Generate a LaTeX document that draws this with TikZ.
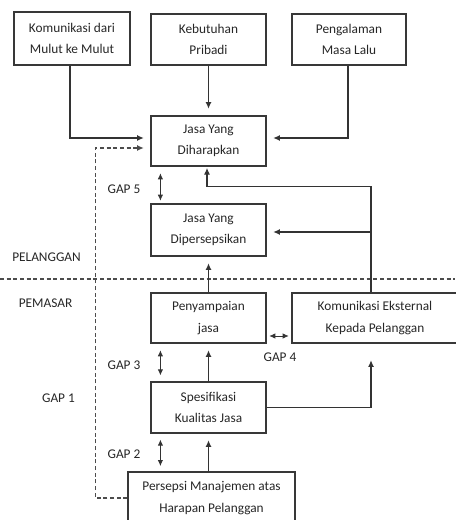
\documentclass[tikz,border=0pt]{standalone}
\usepackage{fontspec}
\setmainfont{Carlito}
\usetikzlibrary{arrows.meta,calc}
\begin{document}
\begin{tikzpicture}[x=0.75pt,y=-0.75pt,
  box/.style={draw=black!78,line width=0.9pt,align=center,inner sep=0pt,font=\fontsize{10}{16}\selectfont,text=black!85},
  arr/.style={draw=black!80,line width=0.8pt,-{Latex[length=5pt,width=4.5pt]},shorten >=5pt},
  dbl/.style={draw=black!80,line width=0.6pt,{Latex[length=4.5pt,width=4pt]}-{Latex[length=4.5pt,width=4pt]}},
  lbl/.style={font=\fontsize{10}{12}\selectfont,text=black!85,inner sep=0pt},
  dsh/.style={draw=black!70,line width=0.8pt,dash pattern=on 3pt off 2pt}]
\useasboundingbox (0,0) rectangle (455,520);
% boxes
\node[box,minimum width=116*0.75pt,minimum height=53*0.75pt] (kom) at (72,38.5) {Komunikasi dari\\Mulut ke Mulut};
\node[box,minimum width=115*0.75pt,minimum height=51*0.75pt] (keb) at (208.5,39.5) {Kebutuhan\\Pribadi};
\node[box,minimum width=114*0.75pt,minimum height=51*0.75pt] (pen) at (349,39.5) {Pengalaman\\Masa Lalu};
\node[box,minimum width=115*0.75pt,minimum height=50*0.75pt] (har) at (208.5,141) {Jasa Yang\\Diharapkan};
\node[box,minimum width=115*0.75pt,minimum height=52*0.75pt] (dip) at (208.5,230) {Jasa Yang\\Dipersepsikan};
\node[box,minimum width=115*0.75pt,minimum height=50*0.75pt] (pny) at (208.5,318) {Penyampaian\\jasa};
\node[box,minimum width=166*0.75pt,minimum height=50*0.75pt] (eks) at (375,318) {Komunikasi Eksternal\\Kepada Pelanggan};
\node[box,minimum width=115*0.75pt,minimum height=51*0.75pt] (spe) at (208.5,407.5) {Spesifikasi\\Kualitas Jasa};
\node[box,minimum width=167*0.75pt,minimum height=52*0.75pt] (per) at (211.5,498) {Persepsi Manajemen atas\\Harapan Pelanggan};
% labels
\node[lbl] (g5) at (124,189) {GAP 5};
\node[lbl] (g3) at (124,365) {GAP 3};
\node[lbl] (g4) at (280,357) {GAP 4};
\node[lbl] (g1) at (58.5,398) {GAP 1};
\node[lbl] (g2) at (124,454) {GAP 2};
\node[lbl] (plg) at (46.5,257) {PELANGGAN};
\node[lbl] (pms) at (45.5,303) {PEMASAR};
% divider
\coordinate (dl) at (0,279);
\coordinate (dr) at (455,279);
\draw[dsh] (dl) -- (dr);
% helper coordinates
\coordinate (ek) at ([shift={(-4,0)}]eks.north);
\coordinate (de) at ([shift={(0,2)}]dip.east);
% connectors
\draw[arr] ([shift={(-2,0)}]kom.south) |- ([shift={(0,-3)}]har.west);
\draw[arr] (keb) -- (har);
\draw[arr] ([shift={(-1,0)}]pen.south) |- ([shift={(0,-3)}]har.east);
\draw[dsh,-{Latex[length=5pt,width=4.5pt]},shorten >=5pt] (per.west) -| ([shift={(-55,7)}]har.west) -- ([shift={(0,7)}]har.west);
\draw[arr,shorten >=1pt] (ek) |- ([shift={(-1.5,20)}]har.south) -- ([shift={(-1.5,0)}]har.south);
\draw[arr] (ek |- de) -- (de);
\draw[arr] (pny) -- (dip);
\draw[arr] (spe) -- (pny);
\draw[arr] (spe.south |- per.north) -- (spe);
\draw[arr,shorten >=12.5pt] (spe.east) -| (ek |- eks.south);
\draw[dbl,shorten <=2pt,shorten >=2pt] ([shift={(0,18)}]pny.east) -- ([shift={(0,18)}]eks.west);
% gap arrows
\draw[dbl,shorten <=5pt,shorten >=2pt] ([shift={(10,0)}]har.south west) -- ([shift={(10,0)}]dip.north west);
\draw[dbl,shorten <=5pt,shorten >=4.5pt] ([shift={(10,0)}]pny.south west) -- ([shift={(10,0)}]spe.north west);
\coordinate (s2) at ([shift={(10,0)}]spe.south west);
\draw[dbl,shorten <=4.5pt,shorten >=4pt] (s2) -- (s2 |- per.north);
\end{tikzpicture}
\end{document}
